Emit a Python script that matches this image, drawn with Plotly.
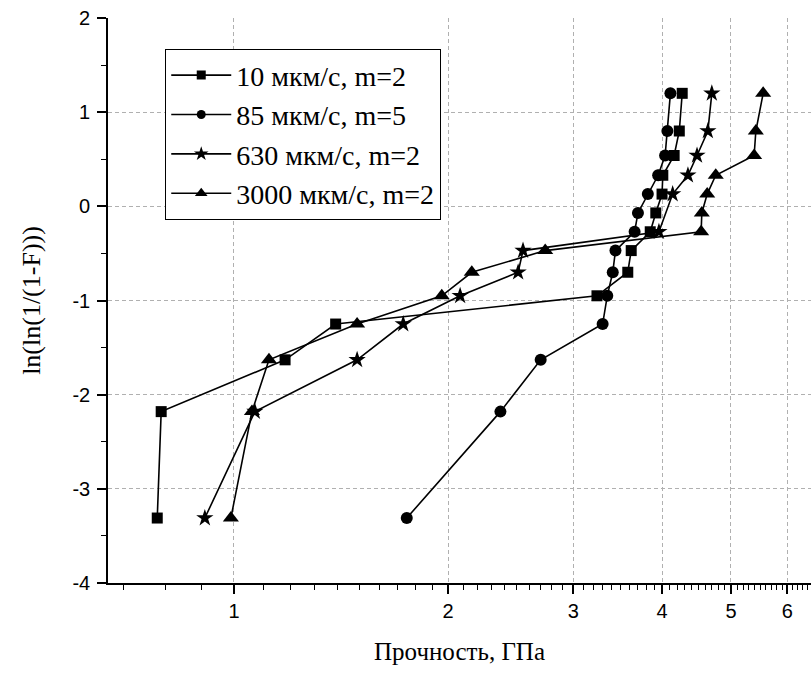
import numpy as np
import plotly.graph_objects as go

# shared ordinate values ln(ln(1/(1-F)))
y_vals = [-3.31, -2.18, -1.63, -1.25, -0.95, -0.70, -0.47, -0.27, -0.07, 0.13, 0.33, 0.54, 0.80, 1.20]
y_star = [-3.31, -2.18, -1.63, -1.25, -0.95, -0.70, -0.47, -0.27, 0.13, 0.33, 0.54, 0.80, 1.20]

x_10 = [0.78, 0.79, 1.18, 1.39, 3.24, 3.58, 3.62, 3.85, 3.92, 4.00, 4.01, 4.16, 4.23, 4.27]
x_85 = [1.75, 2.37, 2.70, 3.30, 3.35, 3.41, 3.44, 3.66, 3.70, 3.82, 3.95, 4.04, 4.07, 4.11]
x_630 = [0.91, 1.07, 1.49, 1.73, 2.08, 2.51, 2.55, 3.96, 4.14, 4.35, 4.48, 4.64, 4.70]
x_3000 = [0.99, 1.06, 1.12, 1.49, 1.96, 2.16, 2.74, 4.54, 4.55, 4.63, 4.76, 5.39, 5.42, 5.55]

names = ["10 мкм/с, m=2", "85 мкм/с, m=5", "630 мкм/с, m=2", "3000 мкм/с, m=2"]
x_tick_vals = [1, 2, 3, 4, 5, 6]
x_tick_text = ["1", "2", "3", "4", "5", "6"]
y_tick_vals = [-4, -3, -2, -1, 0, 1, 2]
y_tick_text = ["-4", "-3", "-2", "-1", "0", "1", "2"]

series = [
    (x_10, y_vals, "square", 11, 9),
    (x_85, y_vals, "circle", 12, 9),
    (x_630, y_star, "star", 13, 11),
    (x_3000, y_vals, "triangle-up", 14, 11),
]

fig = go.Figure()
for (xs, ys, sym, sz, lsz), nm in zip(series, names):
    fig.add_trace(go.Scatter(
        x=xs, y=ys, name=nm, mode="lines+markers", showlegend=False,
        line=dict(color="black", width=1.6),
        marker=dict(symbol=sym, size=sz, color="black"),
    ))
for (xs, ys, sym, sz, lsz), nm in zip(series, names):
    fig.add_trace(go.Scatter(
        x=[None], y=[None], name=nm, mode="lines+markers", showlegend=True,
        line=dict(color="black", width=1.6),
        marker=dict(symbol=sym, size=lsz, color="black"),
    ))

minor_x = [round(v, 1) for v in np.arange(0.7, 6.5, 0.1) if abs(v - round(v)) > 1e-6]

fig.update_layout(
    width=811, height=678,
    margin=dict(l=108, r=0, t=18, b=95),
    paper_bgcolor="white", plot_bgcolor="white",
    showlegend=True,
    legend=dict(
        x=0.081, y=0.945, xanchor="left", yanchor="top",
        bgcolor="white", bordercolor="black", borderwidth=1.3,
        font=dict(family="Liberation Serif", size=28, color="black"),
        itemwidth=60, tracegroupgap=0,
    ),
    font=dict(family="Liberation Sans", size=20, color="black"),
)

fig.update_xaxes(
    type="log",
    range=[np.log10(0.665), np.log10(6.48)],
    tickmode="array", tickvals=x_tick_vals, ticktext=x_tick_text,
    ticks="outside", ticklen=9, tickwidth=1.5, tickcolor="black",
    showline=True, linecolor="black", linewidth=1.6,
    showgrid=True, gridcolor="#b0b0b0", gridwidth=1, griddash="4px,3px",
    zeroline=False,
    minor=dict(tickmode="array", tickvals=minor_x, ticks="outside", ticklen=5,
               tickwidth=1.2, tickcolor="black", showgrid=False),
    title=dict(text="Прочность, ГПа", font=dict(family="Liberation Serif", size=25), standoff=22),
    tickfont=dict(family="Liberation Sans", size=20),
)

fig.update_yaxes(
    range=[-4, 2],
    tickmode="array", tickvals=y_tick_vals, ticktext=y_tick_text,
    ticks="outside", ticklen=9, tickwidth=1.5, tickcolor="black",
    showline=True, linecolor="black", linewidth=1.6,
    showgrid=True, gridcolor="#b0b0b0", gridwidth=1, griddash="4px,3px",
    zeroline=False,
    minor=dict(dtick=0.5, ticks="outside", ticklen=5, tickwidth=1.2, tickcolor="black", showgrid=False),
    title=dict(text="ln(ln(1/(1-F)))", font=dict(family="Liberation Serif", size=26), standoff=24),
    tickfont=dict(family="Liberation Sans", size=20),
    ticklabelstandoff=3,
)

fig.write_html("out.html")
